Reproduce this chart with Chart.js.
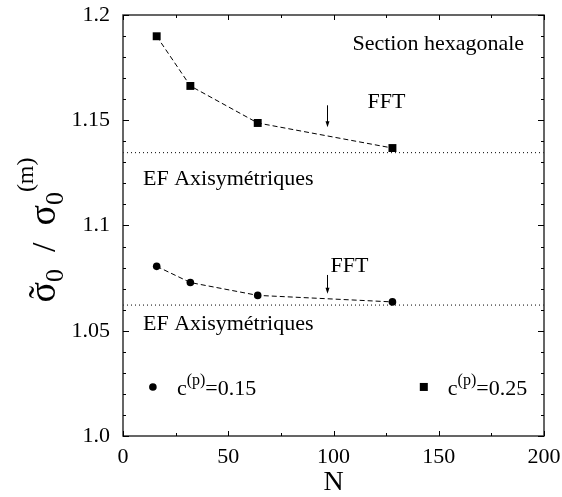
<!DOCTYPE html>
<html>
<head>
<meta charset="utf-8">
<script src="https://cdn.jsdelivr.net/npm/chart.js@4.4.0/dist/chart.umd.min.js"></script>
<style>
  html, body { margin: 0; padding: 0; background: #fff; }
</style>
</head>
<body>
<canvas id="chart" width="562" height="497"></canvas>
<script>
// values
const nValues = [16, 32, 64, 128];
const ratio025 = [1.1899, 1.1663, 1.1487, 1.1368];   // squares, c(p)=0.25
const ratio015 = [1.0806, 1.0729, 1.0668, 1.0637];   // circles, c(p)=0.15
const efAxi025 = 1.1346;  // EF axisymetriques reference levels
const efAxi015 = 1.0622;
const xRange = [0, 200];

const FONT = '"Liberation Serif", "Times New Roman", serif';

const pts = (xs, ys) => xs.map((x, i) => ({ x: x, y: ys[i] }));
const hline = v => xRange.map(x => ({ x: x, y: v }));

// annotations in data coordinates
const labels = [
  { text: 'Section hexagonale', x: 109, y: 1.1862 },
  { text: 'FFT', x: 116.2, y: 1.1586 },
  { text: 'EF Axisymétriques', x: 9.5, y: 1.1219 },
  { text: 'FFT', x: 98.6, y: 1.0805 },
  { text: 'EF Axisymétriques', x: 9.5, y: 1.0533 }
];
const arrows = [
  { x: 96.7, from: 1.1571, to: 1.1467 },
  { x: 96.7, from: 1.0765, to: 1.0676 }
];

const decorations = {
  id: 'decorations',
  afterDraw(chart) {
    const { ctx, chartArea: a, scales: { x, y } } = chart;
    ctx.save();
    ctx.fillStyle = '#000';

    // frame
    ctx.lineWidth = 1.5;
    ctx.strokeStyle = '#333';
    ctx.strokeRect(a.left, a.top, a.right - a.left, a.bottom - a.top);

    // inward ticks
    ctx.lineWidth = 1;
    ctx.strokeStyle = '#000';
    ctx.beginPath();
    for (let v = 0; v <= 200; v += 25) {
      const px = Math.round(x.getPixelForValue(v)) + 0.5;
      const len = v % 50 === 0 ? 5 : 3;
      ctx.moveTo(px, a.bottom); ctx.lineTo(px, a.bottom - len);
      ctx.moveTo(px, a.top); ctx.lineTo(px, a.top + len);
    }
    for (let i = 0; i <= 20; i++) {
      const py = Math.round(y.getPixelForValue(1 + i * 0.01)) + 0.5;
      const len = i % 5 === 0 ? 6 : 3;
      ctx.moveTo(a.left, py); ctx.lineTo(a.left + len, py);
      ctx.moveTo(a.right, py); ctx.lineTo(a.right - len, py);
    }
    ctx.stroke();

    // arrows
    arrows.forEach(ar => {
      const px = Math.round(x.getPixelForValue(ar.x)) + 0.5;
      const y0 = y.getPixelForValue(ar.from), y1 = y.getPixelForValue(ar.to);
      ctx.beginPath();
      ctx.moveTo(px, y0); ctx.lineTo(px, y1 - 4);
      ctx.stroke();
      ctx.beginPath();
      ctx.moveTo(px - 2, y1 - 6); ctx.lineTo(px + 2, y1 - 6); ctx.lineTo(px, y1);
      ctx.closePath(); ctx.fill();
    });

    // text labels
    ctx.font = '22px ' + FONT;
    ctx.textBaseline = 'middle';
    ctx.textAlign = 'left';
    labels.forEach(l => ctx.fillText(l.text, x.getPixelForValue(l.x), y.getPixelForValue(l.y)));

    // legend inside the plot
    const legY = y.getPixelForValue(1.0233);
    const drawEntry = (mx, style, value) => {
      const cx = x.getPixelForValue(mx);
      if (style === 'circle') {
        ctx.beginPath(); ctx.arc(cx, legY, 3.8, 0, Math.PI * 2); ctx.fill();
      } else {
        ctx.fillRect(cx - 4, legY - 4, 8, 8);
      }
      let tx = cx + 24;
      const base = legY + 8;
      ctx.textBaseline = 'alphabetic';
      ctx.font = '22px ' + FONT;
      ctx.fillText('c', tx, base); tx += ctx.measureText('c').width;
      ctx.font = '16px ' + FONT;
      ctx.fillText('(p)', tx, base - 10); tx += ctx.measureText('(p)').width;
      ctx.font = '22px ' + FONT;
      ctx.fillText('=' + value, tx, base);
    };
    drawEntry(14.2, 'circle', '0.15');
    drawEntry(142.9, 'rect', '0.25');

    // y axis title: sigma~_0 / sigma_0^(m)
    ctx.translate(55, 230);
    ctx.rotate(-Math.PI / 2);
    ctx.textBaseline = 'alphabetic';
    const parts = [
      { t: 'σ', size: 38, dy: 0, tilde: true },
      { t: '0', size: 26, dy: 8 },
      { t: '  /  ', size: 34, dy: 0 },
      { t: 'σ', size: 38, dy: 0 },
      { t: '0', size: 26, dy: 8 },
      { t: '(m)', size: 24, dy: -22 }
    ];
    let total = 0;
    parts.forEach(p => { ctx.font = p.size + 'px ' + FONT; p.w = ctx.measureText(p.t).width; total += p.w; });
    let tx = -total / 2;
    parts.forEach(p => {
      ctx.font = p.size + 'px ' + FONT;
      ctx.fillText(p.t, tx, p.dy);
      if (p.tilde) {
        ctx.textAlign = 'center';
        ctx.fillText('˜', tx + p.w / 2, 0);
        ctx.textAlign = 'left';
      }
      tx += p.w;
    });
    ctx.restore();
  }
};

new Chart(document.getElementById('chart'), {
  type: 'scatter',
  data: {
    datasets: [
      {
        label: 'c(p)=0.25', data: pts(nValues, ratio025), showLine: true,
        borderColor: '#000', borderWidth: 1, borderDash: [5, 3],
        pointStyle: 'rect', pointRadius: 5.6, pointBackgroundColor: '#000', pointBorderColor: '#000', pointBorderWidth: 0
      },
      {
        label: 'c(p)=0.15', data: pts(nValues, ratio015), showLine: true,
        borderColor: '#000', borderWidth: 1, borderDash: [5, 3],
        pointStyle: 'circle', pointRadius: 3.8, pointBackgroundColor: '#000', pointBorderColor: '#000', pointBorderWidth: 0
      },
      {
        label: 'EF 0.25', data: hline(efAxi025), showLine: true,
        borderColor: '#000', borderWidth: 1, borderDash: [1, 3], pointRadius: 0
      },
      {
        label: 'EF 0.15', data: hline(efAxi015), showLine: true,
        borderColor: '#000', borderWidth: 1, borderDash: [1, 3], pointRadius: 0
      }
    ]
  },
  options: {
    responsive: false,
    animation: false,
    layout: { padding: { top: 15, right: 18, left: 0, bottom: 0 } },
    plugins: { legend: { display: false }, tooltip: { enabled: false } },
    scales: {
      x: {
        type: 'linear', min: 0, max: 200,
        ticks: { stepSize: 50, color: '#000', padding: 8, maxRotation: 0, font: { family: FONT, size: 22 } },
        grid: { display: false, drawTicks: false },
        border: { display: false },
        title: { display: true, text: 'N', color: '#000', padding: 0, font: { family: FONT, size: 28, lineHeight: 1 } },
        afterFit(s) { s.height = 61; s.paddingLeft = 0; s.paddingRight = 0; }
      },
      y: {
        min: 1.0, max: 1.2,
        ticks: {
          stepSize: 0.05, color: '#000', padding: 13, font: { family: FONT, size: 22 },
          callback: v => { const s = String(+v.toFixed(2)); return s.includes('.') ? s : s + '.0'; }
        },
        grid: { display: false, drawTicks: false },
        border: { display: false },
        afterFit(s) { s.width = 123; s.paddingTop = 0; s.paddingBottom = 0; }
      }
    }
  },
  plugins: [decorations]
});
</script>
</body>
</html>
